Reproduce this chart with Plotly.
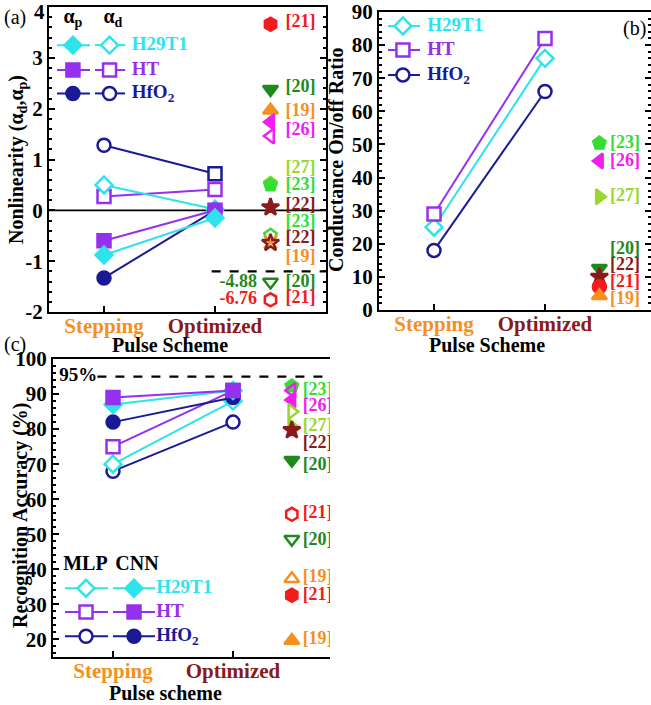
import plotly.graph_objects as go

W, H = 651, 705
FONT = "Liberation Serif, Times New Roman, serif"

CYAN = "#2ee3ea"
PURPLE = "#9430ee"
NAVY = "#1a1a94"
ORANGE = "#f5901e"
DRED = "#8b1a1a"
RED = "#f21c1c"
DGREEN = "#1e8a1e"
GREEN = "#35dd35"
LIME = "#9ad62e"
MAGENTA = "#f01ef0"

# ---------------- data ----------------
scheme_x = [1, 2]
scheme_labels = ["Stepping", "Optimized"]

# (a) Nonlinearity
h29t1_ap = [-0.88, -0.15]
h29t1_ad = [0.50, 0.02]
ht_ap = [-0.60, 0.00]
ht_ad = [0.27, 0.41]
hfo2_ap = [-1.33, 0.00]
hfo2_ad = [1.28, 0.72]
nl_ticks = [-2, -1, 0, 1, 2, 3, 4]

ref_a_y = [3.66, 2.38, 1.97, 1.74, 1.46, 0.53, 0.50, 0.06, -0.49, -0.62, -0.64, -1.41, -1.76]
ref_a_sym = ["hexagon", "triangle-down", "triangle-up", "triangle-left", "triangle-left-open",
             "pentagon", "pentagon", "star", "pentagon-open", "x-thin-open", "star-open",
             "triangle-down-open", "hexagon-open"]
ref_a_col = [RED, DGREEN, ORANGE, MAGENTA, MAGENTA, LIME, GREEN, DRED, GREEN, ORANGE, DRED, DGREEN, RED]
ref_a_lab_y = [3.70, 2.42, 1.95, 1.58, 0.83, 0.49, 0.10, -0.23, -0.56, -0.92, -1.41, -1.74]
ref_a_lab = ["[21]", "[20]", "[19]", "[26]", "[27]", "[23]", "[22]", "[23]", "[22]", "[19]", "[20]", "[21]"]
ref_a_lab_col = [RED, DGREEN, ORANGE, MAGENTA, LIME, GREEN, DRED, GREEN, DRED, ORANGE, DGREEN, RED]
offscale_a_y = [-1.41, -1.76]
offscale_a_txt = ["-4.88", "-6.76"]
offscale_a_col = [DGREEN, RED]

# (b) Conductance on/off ratio
h29t1_onoff = [25, 76]
ht_onoff = [29, 82]
hfo2_onoff = [18, 66]

ref_b_y = [50.4, 45.0, 34.2, 12.6, 10.0, 7.0, 4.3]
ref_b_sym = ["pentagon", "triangle-left", "triangle-right", "triangle-down", "star", "circle", "triangle-up"]
ref_b_col = [GREEN, MAGENTA, LIME, DGREEN, DRED, RED, ORANGE]
ref_b_lab_y = [50.4, 45.0, 34.2, 18.4, 13.3, 8.3, 3.2]
ref_b_lab = ["[23]", "[26]", "[27]", "[20]", "[22]", "[21]", "[19]"]
ref_b_lab_col = [GREEN, MAGENTA, LIME, DGREEN, DRED, RED, ORANGE]

# (c) Recognition accuracy
h29t1_mlp = [70, 88]
h29t1_cnn = [87, 91]
ht_mlp = [75, 91]
ht_cnn = [89, 91]
hfo2_mlp = [68, 82]
hfo2_cnn = [82, 89]
target_acc = 95
acc_ticks = [20, 30, 40, 50, 60, 70, 80, 90, 100]

ref_c_y = [92.3, 91.0, 88.3, 85.0, 80.7, 79.7, 71.1, 55.7, 48.6, 37.3, 32.6, 19.7]
ref_c_sym = ["pentagon", "triangle-left-open", "triangle-left", "triangle-right-open", "triangle-right",
             "star", "triangle-down", "hexagon-open", "triangle-down-open", "triangle-up-open",
             "hexagon", "triangle-up"]
ref_c_col = [GREEN, MAGENTA, MAGENTA, LIME, LIME, DRED, DGREEN, RED, DGREEN, ORANGE, RED, ORANGE]
ref_c_lab_y = [91.1, 86.4, 80.7, 75.9, 69.7, 56.0, 48.3, 37.7, 32.6, 20.0]
ref_c_lab = ["[23]", "[26]", "[27]", "[22]", "[20]", "[21]", "[20]", "[19]", "[21]", "[19]"]
ref_c_lab_col = [GREEN, MAGENTA, LIME, DRED, DGREEN, RED, DGREEN, ORANGE, RED, ORANGE]

# ---------------- figure ----------------
fig = go.Figure()
MS = 13


def bold(size, color="black"):
    return dict(family=FONT, size=size, color=color, weight="bold")


def series(x, y, color, symbol, filled, xa, ya, size=MS):
    fig.add_trace(go.Scatter(
        x=x, y=y, xaxis=xa, yaxis=ya, mode="lines+markers", showlegend=False,
        line=dict(color=color, width=2),
        marker=dict(symbol=symbol, size=size, color=color if filled else "white",
                    line=dict(color=color, width=2.5)),
    ))


def refs(x, ys, syms, cols, xa, ya, size=MS):
    fig.add_trace(go.Scatter(
        x=[x] * len(ys), y=ys, xaxis=xa, yaxis=ya, mode="markers", showlegend=False,
        marker=dict(symbol=syms, size=size, color=cols, line=dict(color=cols, width=2.5)),
    ))


def texts(x, ys, labels, cols, xa, ya, size=18, pos="middle center"):
    fig.add_trace(go.Scatter(
        x=[x] * len(ys), y=ys, xaxis=xa, yaxis=ya, mode="text", text=labels,
        textposition=pos, showlegend=False, cliponaxis=True,
        textfont=dict(family=FONT, size=size, color=cols, weight="bold"),
    ))


def legend_row(xa, ya, y, segs, color, label, text_x, size=MS):
    for x0, x1, xm, sym, filled in segs:
        fig.add_trace(go.Scatter(x=[x0, x1], y=[y, y], xaxis=xa, yaxis=ya, mode="lines",
                                 line=dict(color=color, width=2), showlegend=False, hoverinfo="skip"))
        fig.add_trace(go.Scatter(x=[xm], y=[y], xaxis=xa, yaxis=ya, mode="markers", showlegend=False,
                                 marker=dict(symbol=sym, size=size, color=color if filled else "white",
                                             line=dict(color=color, width=2.5)), hoverinfo="skip"))
    fig.add_trace(go.Scatter(x=[text_x], y=[y], xaxis=xa, yaxis=ya, mode="text", text=[label],
                             textposition="middle right", showlegend=False,
                             textfont=dict(family=FONT, size=19, color=color, weight="bold")))


# ----- panel (a) -----
fig.add_shape(type="line", xref="x", yref="y", x0=0.5045, x1=3.0, y0=0, y1=0,
              line=dict(color="black", width=1.8), layer="below")
fig.add_shape(type="line", xref="x", yref="y", x0=1.97, x1=3.0, y0=-1.2, y1=-1.2,
              line=dict(color="black", width=2.2, dash="dash"))
series(scheme_x, hfo2_ad, NAVY, ["circle", "square"], False, "x", "y")
series(scheme_x, ht_ad, PURPLE, "square", False, "x", "y")
series(scheme_x, h29t1_ad, CYAN, "diamond", False, "x", "y")
series(scheme_x, hfo2_ap, NAVY, "circle", True, "x", "y")
series(scheme_x, ht_ap, PURPLE, "square", True, "x", "y")
series(scheme_x, h29t1_ap, CYAN, "diamond", True, "x", "y")
refs(2.5, ref_a_y, ref_a_sym, ref_a_col, "x", "y")
texts(2.77, ref_a_lab_y, ref_a_lab, ref_a_lab_col, "x", "y")
texts(2.21, offscale_a_y, offscale_a_txt, offscale_a_col, "x", "y")
texts(0.72, [3.78], ["α<sub>p</sub>"], ["black"], "x", "y", size=20)
texts(1.08, [3.78], ["α<sub>d</sub>"], ["black"], "x", "y", size=20)
for yy, col, lab, sym in [(3.25, CYAN, "H29T1", "diamond"), (2.76, PURPLE, "HT", "square"),
                          (2.30, NAVY, "HfO<sub>2</sub>", "circle")]:
    legend_row("x", "y", yy, [(0.577, 0.874, 0.72, sym, True), (0.919, 1.19, 1.05, sym, False)],
               col, lab, 1.25)

# ----- panel (b) -----
series(scheme_x, hfo2_onoff, NAVY, "circle", False, "x2", "y2")
series(scheme_x, h29t1_onoff, CYAN, "diamond", False, "x2", "y2")
series(scheme_x, ht_onoff, PURPLE, "square", False, "x2", "y2")
refs(2.49, ref_b_y, ref_b_sym, ref_b_col, "x2", "y2")
texts(2.72, ref_b_lab_y, ref_b_lab, ref_b_lab_col, "x2", "y2")
for yy, col, lab, sym in [(85.8, CYAN, "H29T1", "diamond"), (78.5, PURPLE, "HT", "square"),
                          (71.0, NAVY, "HfO<sub>2</sub>", "circle")]:
    legend_row("x2", "y2", yy, [(0.586, 0.874, 0.72, sym, False)], col, lab, 0.94)

# ----- panel (c) -----
fig.add_shape(type="line", xref="x3", yref="y3", x0=0.87, x1=2.81, y0=target_acc, y1=target_acc,
              line=dict(color="black", width=2.2, dash="dash"))
texts(0.71, [target_acc], ["95%"], ["black"], "x3", "y3", size=19)
series(scheme_x, hfo2_mlp, NAVY, "circle", False, "x3", "y3")
series(scheme_x, h29t1_mlp, CYAN, "diamond", False, "x3", "y3")
series(scheme_x, ht_mlp, PURPLE, "square", False, "x3", "y3")
series(scheme_x, hfo2_cnn, NAVY, "circle", True, "x3", "y3")
series(scheme_x, h29t1_cnn, CYAN, "diamond", True, "x3", "y3")
series(scheme_x, ht_cnn, PURPLE, "square", True, "x3", "y3")
refs(2.49, ref_c_y, ref_c_sym, ref_c_col, "x3", "y3")
texts(2.58, ref_c_lab_y, ref_c_lab, ref_c_lab_col, "x3", "y3", pos="middle right")
texts(0.77, [41.3], ["MLP"], ["black"], "x3", "y3", size=20)
texts(1.20, [41.3], ["CNN"], ["black"], "x3", "y3", size=20)
for yy, col, lab, sym in [(34.6, CYAN, "H29T1", "diamond"), (27.8, PURPLE, "HT", "square"),
                          (20.9, NAVY, "HfO<sub>2</sub>", "circle")]:
    legend_row("x3", "y3", yy, [(0.60, 0.958, 0.775, sym, False), (1.0, 1.35, 1.175, sym, True)],
               col, lab, 1.36)

# ---------------- axes ----------------
tick_text = ["<span style='color:%s'>%s</span>" % (ORANGE, scheme_labels[0]),
             "<span style='color:%s'>%s</span>" % (DRED, scheme_labels[1])]


def xax(domain, rng):
    return dict(domain=domain, range=rng, showline=True, linewidth=2, linecolor="black", mirror=True,
                ticks="inside", ticklen=6, tickwidth=2, tickcolor="black", tickvals=scheme_x,
                ticktext=tick_text, tickfont=bold(21), showgrid=False, zeroline=False, fixedrange=True,
                ticklabelstandoff=-6, automargin=False, ticklabeloverflow="allow")


def yax(domain, rng, tickvals, ticktext, mdtick, mirror, anchor):
    return dict(domain=domain, range=rng, showline=True, linewidth=2, linecolor="black", mirror=mirror,
                ticks="inside", ticklen=6, tickwidth=2, tickcolor="black", tickvals=tickvals,
                ticktext=ticktext,
                tickfont=bold(21), showgrid=False, zeroline=False, anchor=anchor,
                minor=dict(ticks="inside", ticklen=3, tickwidth=1.5, tickcolor="black", dtick=mdtick),
                fixedrange=True, automargin=False, ticklabeloverflow="allow")


def px_x(p):
    return p / W


def px_y(p):
    return 1 - p / H


# the topmost label of panel (a) sits on the page edge; it is drawn as an annotation a bit lower
nl_ticktext = [str(v) for v in nl_ticks[:-1]] + [""]
onoff_ticks = list(range(0, 91, 10))

fig.update_layout(
    width=W, height=H, margin=dict(l=0, r=0, t=0, b=0, autoexpand=False),
    paper_bgcolor="white", plot_bgcolor="white", showlegend=False,
    font=dict(family=FONT, color="black"),
    xaxis=dict(**xax([px_x(49), px_x(326)], [0.5045, 3.0]), anchor="y"),
    yaxis=yax([px_y(312), px_y(7)], [-2, 4], nl_ticks, nl_ticktext, 0.2, "ticks", "x"),
    xaxis2=dict(**xax([px_x(379), 1.0], [0.5045, 2.955]), anchor="y2"),
    yaxis2=yax([px_y(310), px_y(12)], [0, 90], onoff_ticks, [str(v) for v in onoff_ticks], 2, "ticks", "x2"),
    xaxis3=dict(**xax([px_x(53), px_x(330)], [0.5, 2.808]), anchor="y3"),
    yaxis3=yax([px_y(657), px_y(359)], [15, 100], acc_ticks, [str(v) for v in acc_ticks], 2, False, "x3"),
)

annots = [
    (str(nl_ticks[-1]), 39, 12, 0, bold(21)),
    ("(a)", 15, 17, 0, dict(family=FONT, size=20, color="black")),
    ("(b)", 634, 28, 0, dict(family=FONT, size=20, color="black")),
    ("(c)", 15, 345, 0, dict(family=FONT, size=20, color="black")),
    ("Nonlinearity (α<sub>d</sub>,α<sub>p</sub>)", 17, 160, -90, bold(20)),
    ("Pulse Scheme", 170, 345, 0, bold(20)),
    ("Conductance On/off Ratio", 336, 160, -90, bold(20)),
    ("Pulse Scheme", 487, 345, 0, bold(20)),
    ("Recognition Accuracy (%)", 20, 515, -90, bold(20)),
    ("Pulse scheme", 165, 693, 0, bold(20)),
]
for txt, x, y, ang, f in annots:
    fig.add_annotation(text=txt, x=px_x(x), y=px_y(y), xref="paper", yref="paper",
                       showarrow=False, textangle=ang, font=f, xanchor="center", yanchor="middle")

fig.write_html("out.html")
